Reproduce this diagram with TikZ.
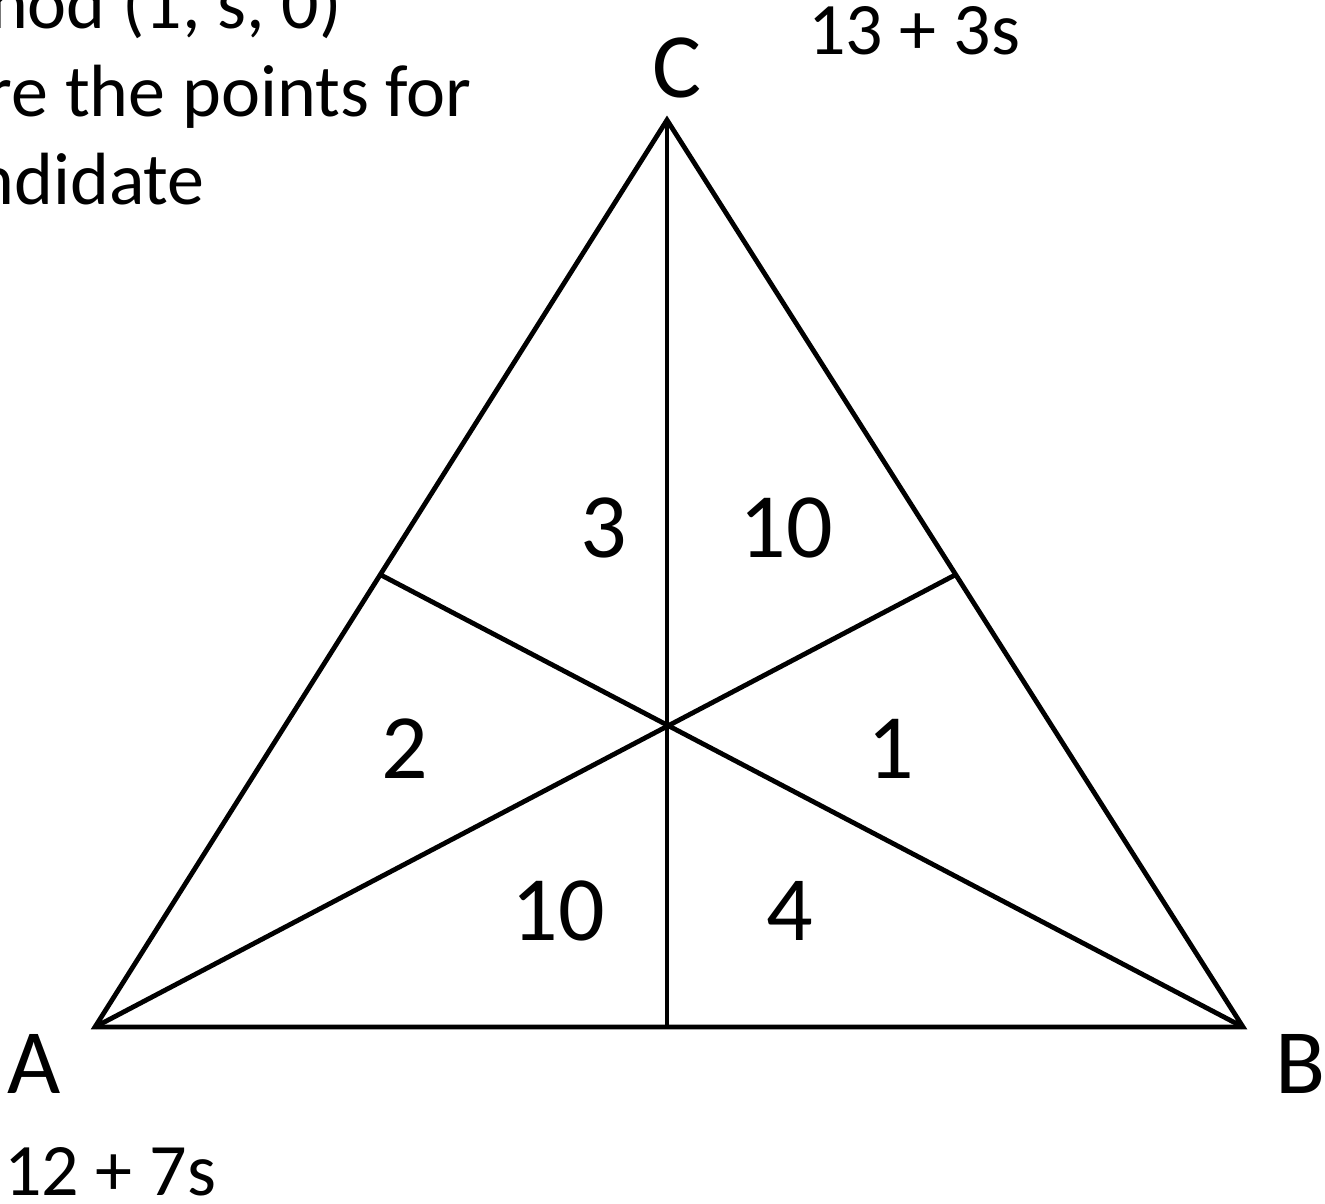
\documentclass[tikz,border=0pt]{standalone}
\usepackage{fontspec}
\setmainfont{Carlito}
\begin{document}
\begin{tikzpicture}[x=1pt,y=-1pt,
  edge/.style={line width=4.8pt, line join=miter},
  big/.style={inner sep=0pt, font=\fontsize{92}{100}\selectfont},
  small/.style={inner sep=0pt, font=\fontsize{74}{80}\selectfont}]
\useasboundingbox (0,0) rectangle (1325,1204);
\clip (0,0) rectangle (1325,1204);
\coordinate (A) at (95,1027);
\coordinate (B) at (1243,1027);
\coordinate (C) at (667,120);
\coordinate (O) at (667,727);
\coordinate (L) at (381,575);
\coordinate (R) at (955,575);
\coordinate (M) at (667,1027);
\draw[edge] (A) -- (B) -- (C) -- cycle;
\draw[edge] (C) -- (M);
\draw[edge] (A) -- (R);
\draw[edge] (B) -- (L);
% vertex labels
\node[big, anchor=base] (lC) at (677,98) {C};
\node[big, anchor=base] (lA) at (34,1093) {A};
\node[big, anchor=base] (lB) at (1301,1093) {B};
\node[small, anchor=base west] (sC) at (808,55) {13 + 3s};
\node[small, anchor=base west] (sA) at (4,1195) {12 + 7s};
% region numbers
\node[big, anchor=base] (n3) at (604,557) {3};
\node[big, anchor=base] (n10a) at (786,557) {10};
\node[big, anchor=base] (n2) at (405,778) {2};
\node[big, anchor=base] (n1) at (891,778) {1};
\node[big, anchor=base] (n10b) at (558,940) {10};
\node[big, anchor=base] (n4) at (790,940) {4};
% clipped title text
\node[small, anchor=base east] (t1) at (342,29) {hod (1, s, 0)};
\node[small, anchor=base east] (t2) at (472,117) {re the points for};
\node[small, anchor=base east] (t3) at (205,204) {ndidate};
\end{tikzpicture}
\end{document}
